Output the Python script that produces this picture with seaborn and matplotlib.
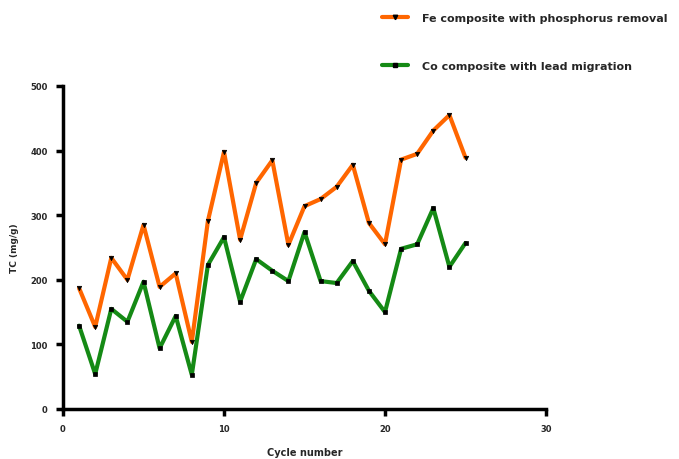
import numpy as np
import pandas as pd
import seaborn as sns
import matplotlib
matplotlib.use("Agg")
import matplotlib.pyplot as plt
from matplotlib.lines import Line2D

cycles = list(range(1, 26))
series_a_name = "Fe composite with phosphorus removal"
series_b_name = "Co composite with lead migration"
series_a = [187, 127, 234, 200, 285, 189, 210, 104, 291, 398,
            262, 350, 385, 254, 314, 325, 344, 378, 288, 255,
            386, 395, 431, 455, 389]
series_b = [129, 54, 155, 135, 197, 94, 144, 53, 223, 266,
            166, 232, 214, 198, 274, 198, 195, 229, 183, 150,
            248, 255, 311, 220, 257]
x_ticks = [0, 10, 20, 30]
y_ticks = [0, 100, 200, 300, 400, 500]

df = pd.DataFrame({
    "cycle": cycles * 2,
    "value": series_a + series_b,
    "series": [series_a_name] * len(cycles) + [series_b_name] * len(cycles),
})

sns.set_style("white")
plt.rcParams["font.family"] = ["DejaVu Sans"]

fig = plt.figure(figsize=(6.79, 4.60), dpi=100)
ax = fig.add_axes([63 / 679, 1 - 410 / 460, (546 - 63) / 679, (410 - 87) / 460])

palette = {series_a_name: "#ff6600", series_b_name: "#158a15"}
markers = {series_a_name: "v", series_b_name: "s"}
sns.lineplot(data=df, x="cycle", y="value", hue="series", style="series",
             palette=palette, markers=markers, dashes=False, linewidth=3.0,
             markersize=3.2, ax=ax, legend=False)
for ln in ax.lines:
    ln.set_markerfacecolor("black")
    ln.set_markeredgecolor("black")
    ln.set_markeredgewidth(0.5)

ax.set_xlim(0, 30)
ax.set_ylim(0, 500)
ax.set_xticks(x_ticks)
ax.set_yticks(y_ticks)
ax.set_xticklabels([str(t) for t in x_ticks], fontsize=6, fontweight="bold")
ax.set_yticklabels([str(t) for t in y_ticks], fontsize=6, fontweight="bold")
ax.set_xlabel("Cycle number", fontsize=7, fontweight="bold", labelpad=10)
ax.set_ylabel("TC (mg/g)", fontsize=6.5, fontweight="bold", labelpad=8)
for side in ["top", "right"]:
    ax.spines[side].set_visible(False)
for side in ["left", "bottom"]:
    ax.spines[side].set_linewidth(2.5)
    ax.spines[side].set_color("black")
ax.tick_params(axis="both", which="both", direction="out", length=5, width=2.5,
               color="black", pad=6)
ax.tick_params(bottom=True, left=True)

handles = [
    Line2D([], [], color=palette[series_a_name], lw=3.0, marker="v",
           markersize=3.2, markerfacecolor="black", markeredgecolor="black"),
    Line2D([], [], color=palette[series_b_name], lw=3.0, marker="s",
           markersize=3.2, markerfacecolor="black", markeredgecolor="black"),
]
fig.legend(handles, [series_a_name, series_b_name], loc="upper left",
           bbox_to_anchor=(372 / 679, 1 - 4 / 460), frameon=False,
           prop={"size": 8, "weight": "bold"}, labelspacing=3.45,
           handlelength=2.3, handletextpad=1.3)

fig.savefig("out.png", dpi=100)
